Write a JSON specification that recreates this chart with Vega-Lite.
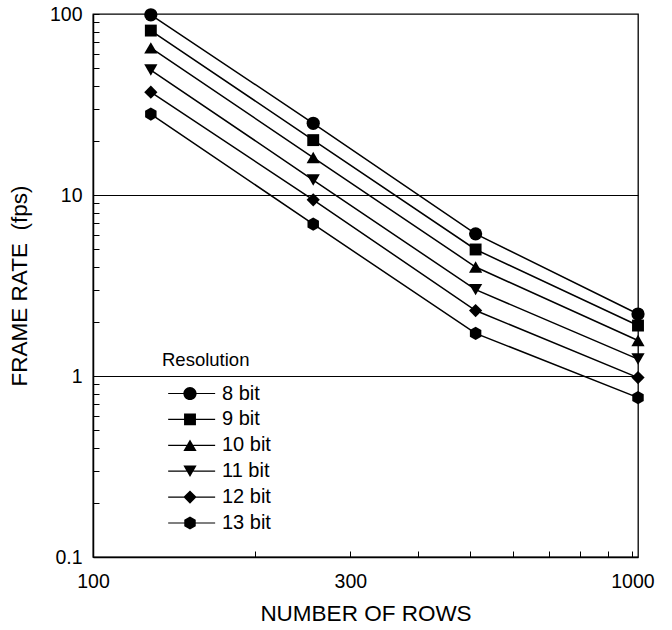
{
  "$schema": "https://vega.github.io/schema/vega-lite/v6.json",
  "width": 545,
  "height": 543,
  "autosize": {"type": "none"},
  "padding": {"left": 93, "top": 14, "right": 34, "bottom": 73},
  "background": "white",
  "config": {
    "view": {"stroke": "black", "strokeWidth": 1.3},
    "font": "Liberation Sans",
    "axis": {
      "domainColor": "black", "domainWidth": 1.5,
      "tickColor": "black", "tickWidth": 1,
      "labelColor": "black", "titleColor": "black",
      "labelFont": "Liberation Sans", "titleFont": "Liberation Sans",
      "titleFontWeight": "normal", "labelFontSize": 19.5, "titleFontSize": 22.5,
      "labelOverlap": false, "labelFlush": false
    }
  },
  "data": {
    "values": [
      {"series": "8 bit", "rows": 128, "fps": 99},
      {"series": "8 bit", "rows": 256, "fps": 24.9},
      {"series": "8 bit", "rows": 512, "fps": 6.1},
      {"series": "8 bit", "rows": 1024, "fps": 2.2},
      {"series": "9 bit", "rows": 128, "fps": 81},
      {"series": "9 bit", "rows": 256, "fps": 20.1},
      {"series": "9 bit", "rows": 512, "fps": 5.0},
      {"series": "9 bit", "rows": 1024, "fps": 1.9},
      {"series": "10 bit", "rows": 128, "fps": 65},
      {"series": "10 bit", "rows": 256, "fps": 16.1},
      {"series": "10 bit", "rows": 512, "fps": 4.0},
      {"series": "10 bit", "rows": 1024, "fps": 1.57},
      {"series": "11 bit", "rows": 128, "fps": 49},
      {"series": "11 bit", "rows": 256, "fps": 12.1},
      {"series": "11 bit", "rows": 512, "fps": 3.0},
      {"series": "11 bit", "rows": 1024, "fps": 1.24},
      {"series": "12 bit", "rows": 128, "fps": 37},
      {"series": "12 bit", "rows": 256, "fps": 9.4},
      {"series": "12 bit", "rows": 512, "fps": 2.3},
      {"series": "12 bit", "rows": 1024, "fps": 0.98},
      {"series": "13 bit", "rows": 128, "fps": 28},
      {"series": "13 bit", "rows": 256, "fps": 6.9},
      {"series": "13 bit", "rows": 512, "fps": 1.72},
      {"series": "13 bit", "rows": 1024, "fps": 0.76}
    ]
  },
  "encoding": {
    "x": {
      "field": "rows", "type": "quantitative",
      "scale": {"type": "log", "domain": [100, 1024], "nice": false},
      "axis": {
        "title": "NUMBER OF ROWS", "titleColor": "#000000",
        "values": [100, 200, 300, 400, 500, 600, 700, 800, 900, 1000],
        "labelExpr": "(datum.value == 100 || datum.value == 300 || datum.value == 1000) ? format(datum.value, 'd') : ''",
        "tickSize": -6, "labelPadding": 21, "titlePadding": 12, "grid": false
      }
    },
    "y": {
      "field": "fps", "type": "quantitative",
      "scale": {"type": "log", "domain": [0.1, 100], "nice": false},
      "axis": {
        "title": "FRAME RATE \u00a0(fps)", "titleColor": "#000000",
        "values": [0.1, 0.2, 0.3, 0.4, 0.5, 0.6, 0.7, 0.8, 0.9, 1, 2, 3, 4, 5, 6, 7, 8, 9, 10, 20, 30, 40, 50, 60, 70, 80, 90, 100],
        "labelExpr": "(datum.value == 0.1 || datum.value == 1 || datum.value == 10 || datum.value == 100) ? format(datum.value, '~g') : ''",
        "tickSize": -6, "labelPadding": 17, "titlePadding": 18,
        "grid": true, "gridColor": "black", "gridWidth": 1,
        "gridOpacity": {"condition": {"test": "datum.value == 1 || datum.value == 10", "value": 1}, "value": 0}
      }
    }
  },
  "layer": [
    {
      "mark": {"type": "line", "color": "black", "strokeWidth": 1.5},
      "encoding": {"detail": {"field": "series"}}
    },
    {
      "mark": {"type": "point", "filled": true, "color": "black", "size": 175, "opacity": 1},
      "encoding": {
        "shape": {
          "field": "series",
          "scale": {
            "domain": ["8 bit", "9 bit", "10 bit", "11 bit", "12 bit", "13 bit"],
            "range": ["circle", "M-0.9,-0.9H0.9V0.9H-0.9Z", "triangle-up", "triangle-down", "diamond", "M0,-1L0.866,-0.5L0.866,0.5L0,1L-0.866,0.5L-0.866,-0.5Z"]
          },
          "legend": null
        }
      }
    },
    {
      "transform": [{"filter": "datum.rows < 0"}],
      "mark": {"type": "point", "filled": true, "color": "black", "size": 175, "opacity": 1},
      "encoding": {
        "shape": {
          "field": "series",
          "scale": {
            "domain": ["8 bit", "9 bit", "10 bit", "11 bit", "12 bit", "13 bit"],
            "range": [
              "M-1,0A1,1,0,1,1,1,0A1,1,0,1,1,-1,0ZM-3.3,-0.09H-0.5V0.09H-3.3ZM0.5,-0.09H3.8V0.09H0.5Z",
              "M-0.9,-0.9H0.9V0.9H-0.9ZM-3.3,-0.09H-0.5V0.09H-3.3ZM0.5,-0.09H3.8V0.09H0.5Z",
              "M0,-0.866L1,0.866L-1,0.866ZM-3.3,-0.09H-0.5V0.09H-3.3ZM0.5,-0.09H3.8V0.09H0.5Z",
              "M0,0.866L-1,-0.866L1,-0.866ZM-3.3,-0.09H-0.5V0.09H-3.3ZM0.5,-0.09H3.8V0.09H0.5Z",
              "M0,-1L1,0L0,1L-1,0ZM-3.3,-0.09H-0.5V0.09H-3.3ZM0.5,-0.09H3.8V0.09H0.5Z",
              "M0,-1L0.866,-0.5L0.866,0.5L0,1L-0.866,0.5L-0.866,-0.5ZM-3.3,-0.09H-0.5V0.09H-3.3ZM0.5,-0.09H3.8V0.09H0.5Z"
            ]
          },
          "legend": {
            "orient": "none", "legendX": 69, "legendY": 337, "padding": 0,
            "title": "Resolution", "titleFontSize": 18.5, "titleFont": "Liberation Sans",
            "titleFontWeight": "normal", "titleColor": "#000000", "titlePadding": 14,
            "labelFontSize": 20, "labelFont": "Liberation Sans", "labelColor": "#000000",
            "labelOffset": 22, "symbolOffset": 18, "symbolSize": 175, "rowPadding": 5.9,
            "symbolFillColor": "black", "symbolStrokeWidth": 0, "symbolOpacity": 1
          }
        }
      }
    }
  ],
  "resolve": {"scale": {"shape": "independent"}, "legend": {"shape": "independent"}}
}
